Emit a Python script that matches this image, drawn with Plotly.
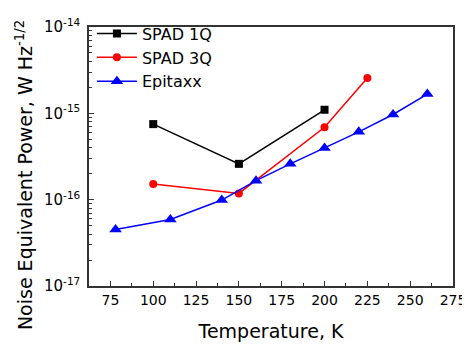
import plotly.graph_objects as go

spad1q_T = [100, 150, 200]
spad1q_nep = [7.5e-16, 2.6e-16, 1.1e-15]

spad3q_T = [100, 150, 200, 225]
spad3q_nep = [1.52e-16, 1.18e-16, 6.9e-16, 2.57e-15]

epitaxx_T = [78, 110, 140, 160, 180, 200, 220, 240, 260]
epitaxx_nep = [4.5e-17, 5.9e-17, 9.9e-17, 1.66e-16, 2.6e-16, 3.97e-16, 6.1e-16, 9.7e-16, 1.67e-15]

y_tickvals = [1e-17, 1e-16, 1e-15, 1e-14]
y_ticktext = ["10<sup>-17</sup>", "10<sup>-16</sup>", "10<sup>-15</sup>", "10<sup>-14</sup>"]

FONT = "DejaVu Sans"

fig = go.Figure()
fig.add_trace(go.Scatter(x=spad1q_T, y=spad1q_nep, name="SPAD 1Q", mode="lines+markers",
                         line=dict(color="black", width=1.5),
                         marker=dict(symbol="square", size=8, color="black")))
fig.add_trace(go.Scatter(x=spad3q_T, y=spad3q_nep, name="SPAD 3Q", mode="lines+markers",
                         line=dict(color="red", width=1.5),
                         marker=dict(symbol="circle", size=8, color="red")))
fig.add_trace(go.Scatter(x=epitaxx_T, y=epitaxx_nep, name="Epitaxx", mode="lines+markers",
                         line=dict(color="blue", width=1.5),
                         marker=dict(symbol="triangle-up", size=11, color="blue")))

fig.update_layout(
    width=462, height=337,
    margin=dict(l=81, r=17, t=9, b=59),
    paper_bgcolor="white", plot_bgcolor="white",
    font=dict(family=FONT, color="black", size=14),
    showlegend=True,
    legend=dict(x=0.008, y=1.04, xanchor="left", yanchor="top",
                bgcolor="rgba(0,0,0,0)", borderwidth=0,
                font=dict(family=FONT, size=16), itemwidth=40,
                tracegroupgap=0),
    xaxis=dict(
        automargin=False,
        range=[62.5, 275], tickmode="linear", tick0=75, dtick=25,
        ticks="inside", ticklen=5, tickwidth=1, tickcolor="#333",
        minor=dict(ticks="inside", ticklen=3, dtick=12.5, tick0=62.5, tickcolor="#333"),
        showline=True, linecolor="#333", linewidth=1.5, mirror=True,
        showgrid=False, zeroline=False,
        tickfont=dict(family=FONT, size=14),
        title=dict(text="Temperature, K", font=dict(family=FONT, size=19), standoff=18),
    ),
    yaxis=dict(
        automargin=False,
        type="log", range=[-17, -14],
        tickmode="array", tickvals=y_tickvals, ticktext=y_ticktext,
        ticks="inside", ticklen=5, tickwidth=1, tickcolor="#333",
        ticklabelstandoff=4,
        minor=dict(ticks="inside", ticklen=3, tickcolor="#333", dtick="D1"),
        showline=True, linecolor="#333", linewidth=1.5, mirror=True,
        showgrid=False, zeroline=False,
        tickfont=dict(family=FONT, size=15),
    ),
    annotations=[dict(
        text="Noise Equivalent Power, W Hz<sup>-1/2</sup>",
        xref="paper", yref="paper", x=-0.179, y=0.4275,
        xanchor="center", yanchor="middle", textangle=-90, showarrow=False,
        font=dict(family=FONT, size=19, color="black"),
    )],
)

fig.write_html("out.html")
